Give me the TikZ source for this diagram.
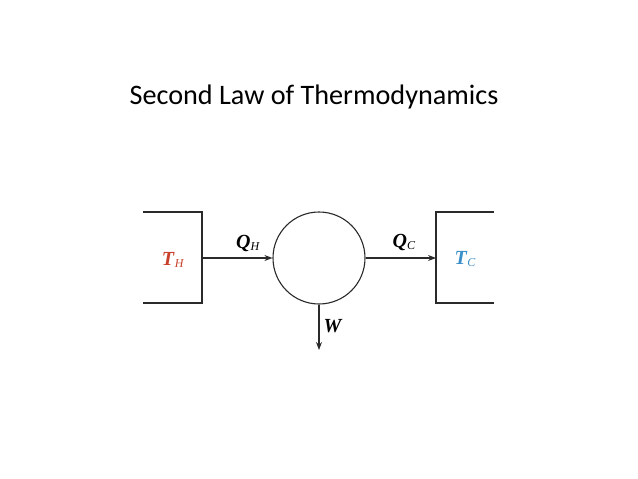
\documentclass[tikz,border=0pt]{standalone}
\usepackage{fontspec}
\setmainfont{Carlito}
\newfontfamily\serifmath{Liberation Serif}
\usetikzlibrary{arrows.meta}
\definecolor{hotred}{HTML}{C8402A}
\definecolor{coldblue}{HTML}{3A8FC8}
\definecolor{linegray}{HTML}{2A2A2A}
\tikzset{
  wall/.style={draw=linegray, line width=1.3pt},
  flow/.style={draw=linegray, line width=1.1pt, -{Stealth[length=8pt,width=6pt]}},
  lbl/.style={font=\serifmath\fontsize{20}{20}\selectfont, inner sep=0pt},
}
\newcommand{\subsc}[1]{\raisebox{-0.3ex}{\fontsize{12}{12}\selectfont\textit{#1}}}
\begin{document}
\begin{tikzpicture}[x=1pt,y=-1pt]
\useasboundingbox (0,0) rectangle (638,479);
\node[font=\fontsize{28.2}{30}\selectfont, anchor=base] (title) at (314,104) {Second Law of Thermodynamics};
% hot reservoir
\coordinate (hA) at (143,212);
\coordinate (hB) at (202,212);
\coordinate (hC) at (202,303);
\coordinate (hD) at (143,303);
\draw[wall] (hA) -- (hB) -- (hC) -- (hD);
% cold reservoir
\coordinate (cA) at (494,212);
\coordinate (cB) at (436,212);
\coordinate (cC) at (436,303);
\coordinate (cD) at (494,303);
\draw[wall] (cA) -- (cB) -- (cC) -- (cD);
% engine
\node[circle, draw=linegray, line width=1.1pt, minimum size=92pt, inner sep=0pt] (eng) at (319,258) {};
\coordinate (hout) at (202,258);
\coordinate (cin) at (436,258);
\coordinate (wend) at (319,350);
\draw[flow] (hout) -- (eng.west);
\draw[flow] (eng.east) -- (cin);
\draw[flow] (eng.south) -- (wend);
\node[lbl, text=hotred] (TH) at (173,260) {\textbf{\textit{T}}\subsc{H}};
\node[lbl, text=coldblue] (TC) at (465,259) {\textbf{\textit{T}}\subsc{C}};
\node[lbl] (QH) at (248,243) {\textbf{\textit{Q}}\subsc{H}};
\node[lbl] (QC) at (404,242) {\textbf{\textit{Q}}\subsc{C}};
\node[lbl] (W) at (333,326) {\textbf{\textit{W}}};
\end{tikzpicture}
\end{document}
